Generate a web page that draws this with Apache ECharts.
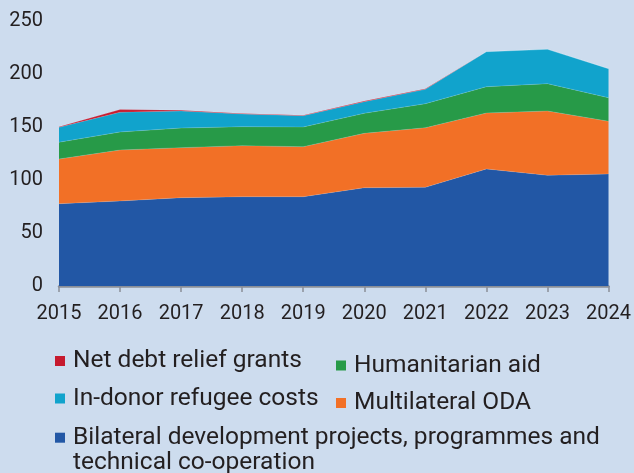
<!DOCTYPE html>
<html>
<head>
<meta charset="utf-8">
<script src="https://cdn.jsdelivr.net/npm/echarts@6/dist/echarts.min.js"></script>
<style>
  html, body { margin: 0; padding: 0; background: #cddcee; }
  #chart { width: 634px; height: 473px; }
</style>
</head>
<body>
<div id="chart"></div>
<script>
// ODA components, stacked (USD billion)
const years = ['2015', '2016', '2017', '2018', '2019', '2020', '2021', '2022', '2023', '2024'];
const bilateral    = [77.6, 80.2, 83.3, 84.2, 84.2, 92.7, 93.1, 110.4, 104.4, 105.7];
const multilateral = [42.2, 48.1, 47.2, 48.2, 47.2, 51.3, 56.2, 52.8, 60.7, 49.7];
const humanitarian = [15.8, 17.0, 18.5, 17.9, 18.6, 18.9, 22.7, 24.8, 25.8, 22.2];
const refugee      = [14.1, 18.6, 16.1, 12.0, 10.7, 11.0, 13.5, 33.0, 32.4, 27.4];
const debtRelief   = [0.5, 2.5, 0.8, 0.4, 0.3, 0.6, 0.7, 0.1, 0.1, 0.1];

const yTicks = [0, 50, 100, 150, 200, 250];

// the bilateral label wraps onto a second line below its legend entry
const bilateralLines = ['Bilateral development projects, programmes and', 'technical co-operation'];

const NAMES = {
  debt: 'Net debt relief grants',
  refugee: 'In-donor refugee costs',
  hum: 'Humanitarian aid',
  multi: 'Multilateral ODA',
  bil: bilateralLines.join(' ')
};

const COLORS = {
  debt: '#c61a2e',
  refugee: '#11a3cc',
  hum: '#279a48',
  multi: '#f27026',
  bil: '#2257a5'
};

const FONT = 'Roboto, "Noto Sans", sans-serif';
const TEXT = '#231f20';
const LEGEND_SIZE = 24.5;

function areaSeries(key, data) {
  return {
    name: NAMES[key],
    type: 'line',
    stack: 'oda',
    data: data,
    symbol: 'none',
    showSymbol: false,
    lineStyle: { width: 0.6, color: 'rgba(255,255,255,0.25)' },
    areaStyle: { color: COLORS[key], opacity: 1 },
    itemStyle: { color: COLORS[key] },
    emphasis: { disabled: true },
    silent: true
  };
}

const legendBase = {
  orient: 'vertical',
  padding: 0,
  itemWidth: 10,
  itemHeight: 10,
  itemGap: 5.5,
  icon: 'rect',
  selectedMode: false,
  textStyle: { fontFamily: FONT, fontSize: LEGEND_SIZE, lineHeight: 24, color: TEXT, padding: [0, 0, 8, 3] }
};

const chart = echarts.init(document.getElementById('chart'), null, { renderer: 'canvas' });
chart.setOption({
  backgroundColor: '#cddcee',
  animation: false,
  grid: { left: 59, right: 24, top: 21, bottom: 187, containLabel: false },
  xAxis: {
    type: 'category',
    data: years,
    boundaryGap: false,
    axisLine: { show: true, lineStyle: { color: '#8a8f98', width: 2.5 } },
    axisTick: { show: true, alignWithLabel: true, length: 6, lineStyle: { color: '#8a8f98', width: 1.5 } },
    axisLabel: { fontFamily: FONT, fontSize: 20, color: TEXT, margin: 18 },
    splitLine: { show: false }
  },
  yAxis: {
    type: 'value',
    min: yTicks[0],
    max: yTicks[yTicks.length - 1],
    interval: 50,
    axisLine: { show: false },
    axisTick: { show: false },
    splitLine: { show: false },
    axisLabel: { fontFamily: FONT, fontSize: 20, color: TEXT, margin: 16 }
  },
  legend: [
    Object.assign({}, legendBase, { left: 55, top: 345, data: [NAMES.debt, NAMES.refugee] }),
    Object.assign({}, legendBase, { left: 336, top: 349.5, data: [NAMES.hum, NAMES.multi] }),
    Object.assign({}, legendBase, {
      left: 55, top: 421.7, data: [NAMES.bil],
      formatter: () => bilateralLines[0]
    })
  ],
  graphic: [{
    type: 'text',
    left: 73,
    top: 450.5,
    silent: true,
    style: {
      text: bilateralLines[1],
      font: LEGEND_SIZE + 'px ' + FONT,
      fill: TEXT
    }
  }],
  series: [
    areaSeries('bil', bilateral),
    areaSeries('multi', multilateral),
    areaSeries('hum', humanitarian),
    areaSeries('refugee', refugee),
    areaSeries('debt', debtRelief)
  ]
});
</script>
</body>
</html>
